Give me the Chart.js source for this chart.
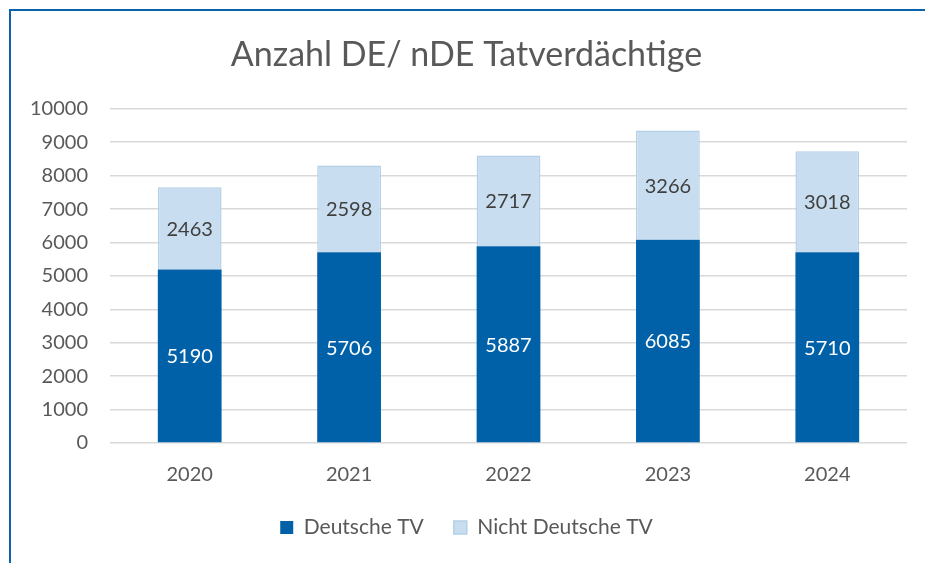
<!DOCTYPE html>
<html>
<head>
<meta charset="utf-8">
<script src="https://cdn.jsdelivr.net/npm/chart.js@4/dist/chart.umd.min.js"></script>
<style>
  html, body { margin: 0; padding: 0; overflow: hidden; background: #fff; }
  #wrap { position: relative; width: 925px; height: 563px; }
  #frame { position: absolute; left: 9px; top: 9px; width: 2000px; height: 2000px; border: 2px solid #0b62ad; box-sizing: border-box; }
  canvas { position: absolute; left: 0; top: 0; }
</style>
</head>
<body>
<div id="wrap">
  <div id="frame"></div>
  <canvas id="c" width="925" height="563"></canvas>
</div>
<script>
const categories = ['2020', '2021', '2022', '2023', '2024'];
const deutscheTV = [5190, 5706, 5887, 6085, 5710];
const nichtDeutscheTV = [2463, 2598, 2717, 3266, 3018];
const seriesNames = ['Deutsche TV', 'Nicht Deutsche TV'];
const chartTitle = 'Anzahl DE/ nDE Tatverdächtige';

const FONT = 'Lato';
const GRAY = '#595959';

const valueLabels = {
  id: 'valueLabels',
  afterDatasetsDraw(chart) {
    const ctx = chart.ctx;
    ctx.save();
    ctx.font = '20px ' + FONT;
    ctx.textAlign = 'center';
    ctx.textBaseline = 'middle';
    chart.data.datasets.forEach((ds, di) => {
      const meta = chart.getDatasetMeta(di);
      meta.data.forEach((el, i) => {
        const p = el.getProps(['x', 'y', 'base'], true);
        ctx.fillStyle = di === 0 ? '#ffffff' : '#404040';
        ctx.fillText(String(ds.data[i]), p.x, (p.y + p.base) / 2 + 1);
      });
    });
    ctx.restore();
  }
};

new Chart(document.getElementById('c'), {
  type: 'bar',
  data: {
    labels: categories,
    datasets: [
      { label: seriesNames[0], data: deutscheTV, backgroundColor: '#0061a8', borderWidth: 0,
        categoryPercentage: 1, barPercentage: 0.4 },
      { label: seriesNames[1], data: nichtDeutscheTV, backgroundColor: '#c8def0', borderColor: '#b4d0e8', borderWidth: 1.5,
        categoryPercentage: 1, barPercentage: 0.4 }
    ]
  },
  options: {
    responsive: false,
    animation: false,
    devicePixelRatio: 1,
    layout: { padding: { left: 26, right: 18, top: 0, bottom: 15 } },
    plugins: {
      title: {
        display: true, text: chartTitle, color: GRAY,
        font: { family: FONT, size: 34, weight: 'normal', lineHeight: 1.2 },
        padding: { top: 35, bottom: 33 }
      },
      legend: {
        position: 'bottom',
        labels: { color: GRAY, font: { family: FONT, size: 21 }, boxWidth: 13, boxHeight: 13, padding: 30 }
      },
      tooltip: { enabled: false }
    },
    scales: {
      x: {
        stacked: true,
        grid: { display: false, drawTicks: false },
        border: { display: false },
        ticks: { color: GRAY, font: { family: FONT, size: 20 }, padding: 20 },
        afterFit(s) { s.height = 44; }
      },
      y: {
        stacked: true, min: 0, max: 10000,
        grid: { color: '#d9d9d9', lineWidth: 1.5, drawTicks: false },
        border: { display: false },
        ticks: { stepSize: 1000, color: GRAY, font: { family: FONT, size: 20 }, padding: 22,
                 callback: (v) => String(v) },
        afterFit(s) { s.width = 84; }
      }
    }
  },
  plugins: [valueLabels]
});
</script>
</body>
</html>
